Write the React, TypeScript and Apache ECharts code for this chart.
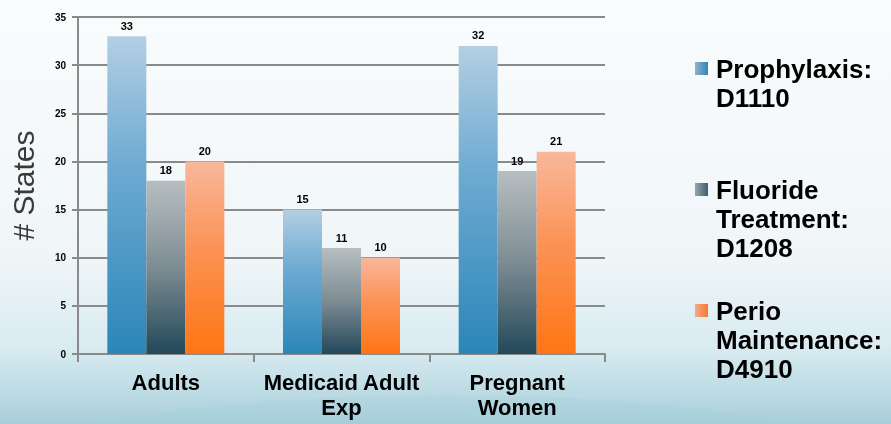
import React, { useEffect, useRef } from "react";
import * as echarts from "echarts";

const categories = ["Adults", "Medicaid Adult\nExp", "Pregnant\nWomen"];
const seriesNames = ["Prophylaxis:\nD1110", "Fluoride\nTreatment:\nD1208", "Perio\nMaintenance:\nD4910"];
const prophylaxis = [33, 15, 32];
const fluoride = [18, 11, 19];
const perioMaintenance = [20, 10, 21];
const yTicks = { min: 0, max: 35, interval: 5 };

const FONT = "'Liberation Sans', Arial, sans-serif";

const vGrad = (stops: [number, string][]) =>
  new echarts.graphic.LinearGradient(0, 0, 0, 1, stops.map(([offset, color]) => ({ offset, color })));

const barFills = [
  vGrad([[0, "#b3cfe3"], [0.4, "#6fabd2"], [1, "#2a86b8"]]),
  vGrad([[0, "#b7bec2"], [0.5, "#7d8c93"], [1, "#22485a"]]),
  vGrad([[0, "#f9b79b"], [0.45, "#fb9356"], [1, "#ff7514"]]),
];
const swatchFills = [
  new echarts.graphic.LinearGradient(0, 0, 1, 0, [
    { offset: 0, color: "#8fb2cc" },
    { offset: 1, color: "#2f86b8" },
  ]),
  new echarts.graphic.LinearGradient(0, 0, 1, 0, [
    { offset: 0, color: "#9aa3a8" },
    { offset: 1, color: "#3b6170" },
  ]),
  new echarts.graphic.LinearGradient(0, 0, 1, 0, [
    { offset: 0, color: "#f8a98a" },
    { offset: 1, color: "#f57a30" },
  ]),
];

export default function App() {
  const ref = useRef<HTMLDivElement>(null);

  useEffect(() => {
    if (!ref.current) return;
    const chart = echarts.init(ref.current, undefined, { renderer: "svg" });
    const values = [prophylaxis, fluoride, perioMaintenance];

    // Legend: swatch aligned with the first line of each multi-line name
    const legendItems: any[] = [];
    const legendTop = [54, 175, 296];
    seriesNames.forEach((name, i) => {
      legendItems.push({
        type: "rect",
        shape: { x: 695, y: legendTop[i] + 8, width: 13, height: 13 },
        style: { fill: swatchFills[i] },
        z: 10,
      });
      legendItems.push({
        type: "text",
        x: 716,
        y: legendTop[i],
        style: {
          text: name,
          font: `bold 26px ${FONT}`,
          lineHeight: 29,
          fill: "#000",
          verticalAlign: "top",
          align: "left",
        },
        z: 10,
      });
    });

    chart.setOption({
      animation: false,
      textStyle: { fontFamily: FONT },
      graphic: [
        {
          type: "rect",
          shape: { x: 0, y: 0, width: 891, height: 424 },
          style: {
            fill: new echarts.graphic.LinearGradient(0, 0, 0, 1, [
              { offset: 0, color: "#fafcfd" },
              { offset: 0.6, color: "#f0f6f8" },
              { offset: 0.82, color: "#d9ebf1" },
              { offset: 1, color: "#a8cfdb" },
            ]),
          },
          z: -10,
          silent: true,
        },
        {
          type: "ellipse",
          shape: { cx: 445, cy: 570, rx: 640, ry: 175 },
          style: { fill: "rgba(150,200,215,0.12)" },
          z: -9,
          silent: true,
        },
        ...legendItems,
      ],
      grid: { left: 76, right: 286, top: 17, bottom: 70 },
      xAxis: {
        type: "category",
        data: categories,
        axisLine: { lineStyle: { color: "#8a8a8a", width: 2 } },
        axisTick: { show: true, length: 8, lineStyle: { color: "#8a8a8a", width: 2 } },
        axisLabel: {
          color: "#000",
          fontSize: 22,
          fontWeight: "bold",
          lineHeight: 25,
          margin: 16,
          interval: 0,
        },
      },
      yAxis: {
        type: "value",
        min: yTicks.min,
        max: yTicks.max,
        interval: yTicks.interval,
        name: "# States",
        nameLocation: "middle",
        nameRotate: 90,
        nameGap: 40,
        nameTextStyle: { fontSize: 30, color: "#3a3a3a" },
        axisLine: { show: true, lineStyle: { color: "#8a8a8a", width: 2 } },
        axisTick: { show: true, length: 6, lineStyle: { color: "#8a8a8a", width: 2 } },
        axisLabel: { color: "#000", fontSize: 10, fontWeight: "bold", margin: 12 },
        splitLine: { lineStyle: { color: "#8a8a8a", width: 2 } },
      },
      series: values.map((data, i) => ({
        type: "bar",
        name: seriesNames[i],
        data,
        barWidth: 39,
        barGap: "0%",
        itemStyle: { color: barFills[i] },
        label: {
          show: true,
          position: "top",
          distance: 5,
          color: "#000",
          fontSize: 11,
          fontWeight: "bold",
        },
      })),
    });

    return () => chart.dispose();
  }, []);

  return (
    <div
      ref={ref}
      style={{ position: "fixed", left: 0, top: 0, width: 891, height: 424 }}
    />
  );
}
